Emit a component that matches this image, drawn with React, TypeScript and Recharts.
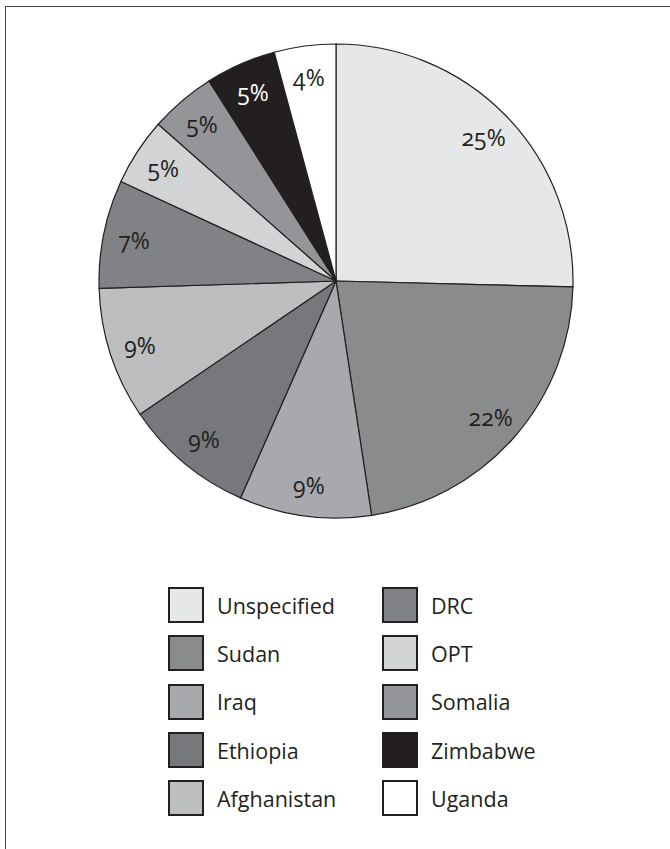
import React from 'react';
import { PieChart, Pie, Cell, Legend } from 'recharts';

// recipient countries, clockwise from 12 o'clock
const countries = [
  'Unspecified',
  'Sudan',
  'Iraq',
  'Ethiopia',
  'Afghanistan',
  'DRC',
  'OPT',
  'Somalia',
  'Zimbabwe',
  'Uganda',
];

// share of total, %
const shares = [25.4, 22.2, 9.0, 8.9, 9.0, 7.4, 4.6, 4.5, 4.8, 4.2];

const COLORS = [
  '#e6e7e8',
  '#8a8b8d',
  '#a7a9ac',
  '#77787b',
  '#bcbec0',
  '#808285',
  '#d1d3d4',
  '#939598',
  '#231f20',
  '#ffffff',
];

const data = countries.map((name, i) => ({ name, value: shares[i] }));

const INK = '#231f20';
const FONT = '"Open Sans", "Noto Sans", sans-serif';
const RAD = Math.PI / 180;

const renderLabel = (props: any) => {
  const { cx, cy, midAngle, outerRadius, value, index } = props;
  const r = outerRadius * 0.87;
  const x = cx + r * Math.cos(-midAngle * RAD);
  const y = cy + r * Math.sin(-midAngle * RAD);
  return (
    <text
      x={x}
      y={y}
      textAnchor="middle"
      dominantBaseline="central"
      fill={COLORS[index] === INK ? '#ffffff' : INK}
      fontFamily={FONT}
      fontSize={23}
      style={{ fontVariantNumeric: 'oldstyle-nums' }}
    >
      {`${Math.round(value)}%`}
    </text>
  );
};

const LegendGrid = () => {
  const half = Math.ceil(countries.length / 2);
  const cols = [countries.slice(0, half), countries.slice(half)];
  return (
    <div style={{ display: 'flex', fontFamily: FONT, fontSize: 21.5, color: INK }}>
      {cols.map((col, c) => (
        <div key={c} style={{ width: c === 0 ? 214 : 200 }}>
          {col.map((name, r) => {
            const i = c * half + r;
            return (
              <div key={name} style={{ display: 'flex', alignItems: 'center', height: 48.3 }}>
                <span
                  style={{
                    width: 32,
                    height: 32,
                    background: COLORS[i],
                    border: `2.5px solid ${INK}`,
                    marginRight: 13,
                    flexShrink: 0,
                  }}
                />
                <span>{name}</span>
              </div>
            );
          })}
        </div>
      ))}
    </div>
  );
};

const DonorChart: React.FC = () => {
  return (
    <div
      style={{
        position: 'absolute',
        left: 0,
        top: 0,
        width: 670,
        height: 849,
        overflow: 'hidden',
        background: '#fff',
      }}
    >
      <div
        style={{
          position: 'absolute',
          left: 5,
          top: 6,
          width: 720,
          height: 900,
          border: '1.5px solid #444',
        }}
      />
      <div style={{ position: 'absolute', left: 0, top: 0 }}>
        <PieChart width={670} height={849} margin={{ top: 0, right: 0, bottom: 0, left: 0 }}>
          <Pie
            data={data}
            dataKey="value"
            nameKey="name"
            cx={336}
            cy={281}
            outerRadius={237}
            startAngle={90}
            endAngle={-270}
            stroke={INK}
            strokeWidth={1.2}
            labelLine={false}
            label={renderLabel}
            isAnimationActive={false}
          >
            {data.map((_entry, index) => (
              <Cell key={`cell-${index}`} fill={COLORS[index]} />
            ))}
          </Pie>
          <Legend
            content={() => <LegendGrid />}
            wrapperStyle={{ position: 'absolute', left: 168, top: 581, width: 440 }}
          />
        </PieChart>
      </div>
    </div>
  );
};

export default function App() {
  return <DonorChart />;
}
